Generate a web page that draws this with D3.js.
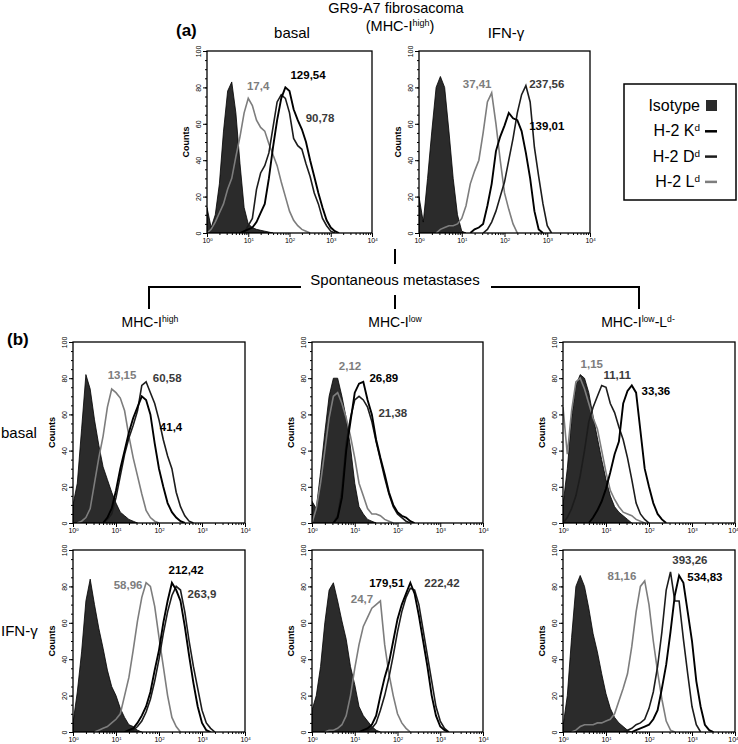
<!DOCTYPE html>
<html>
<head>
<meta charset="utf-8">
<script src="https://cdn.jsdelivr.net/npm/d3@7"></script>
<style>
  body { margin: 0; background: #fff; }
  svg { font-family: "Liberation Sans", Arial, sans-serif; }
</style>
</head>
<body>
<svg id="fig" width="738" height="744"></svg>
<script>
// every histogram is sampled on the same log10 channel grid
var STEP = 0.1;

// (a) GR9-A7 fibrosacoma, basal  (from = first log10 channel)
var aBasalIso = {from: 0,   counts: [14,3,10,27,56,78,83,66,38,14,5,3,2,1.5,1,0.5,0]};
var aBasalLd  = {from: 0,   counts: [0,2,6,11,16,24,30,42,53,66,74,70,62,58,56,49,43,37,28,20,12,7,4,2,1,0]};
var aBasalKd  = {from: 0.8, counts: [0,1,2,3,6,11,16,30,47,62,74,80,78,68,62,57,50,40,31,22,14,7,3,1,0]};
var aBasalDd  = {from: 0.9, counts: [0,4,8,24,33,37,44,58,72,76,74,66,52,48,46,38,31,22,16,8,4,1,0]};
var aBasalMfi = ["17,4", "129,54", "90,78"];

// (a) GR9-A7 fibrosacoma, IFN-γ
var aIfnIso = {from: 0,   counts: [20,6,30,56,80,86,80,56,30,10,1,0]};
var aIfnLd  = {from: 0.4, counts: [0,2,3,4,4,5,8,15,27,34,40,55,72,77,60,40,22,13,5,0]};
var aIfnKd  = {from: 1.2, counts: [0,2,3,5,15,27,45,53,59,66,63,62,56,44,30,12,2,0]};
var aIfnDd  = {from: 1.5, counts: [0,2,6,12,20,28,40,52,66,76,81,72,47,31,16,4,0]};
var aIfnMfi = ["37,41", "139,01", "237,56"];

// (b) MHC-I high, basal / IFN-γ
var hiBasalIso = {from: 0,   counts: [10,22,52,82,74,57,43,31,24,17,11,6,4,2,1,0]};
var hiBasalLd  = {from: 0.1, counts: [0,1,3,8,22,36,48,64,74,72,69,62,48,36,26,16,7,3,1,0]};
var hiBasalKd  = {from: 0.7, counts: [0,3,8,18,30,40,50,58,64,70,68,60,44,30,20,11,6,3,1,0]};
var hiBasalDd  = {from: 0.7, counts: [0,2,5,14,26,38,47,54,62,76,78,72,66,57,46,37,30,17,9,4,1,0]};
var hiBasalMfi = ["13,15", "41,4", "60,58"];

var hiIfnIso = {from: 0,   counts: [5,22,44,72,84,70,57,46,34,25,20,13,8,4,3,1,0]};
var hiIfnLd  = {from: 0.5, counts: [0,1,2,3,5,7,10,20,30,45,61,74,82,80,69,52,36,20,8,3,0]};
var hiIfnKd  = {from: 1.2, counts: [0,1,2,5,9,14,22,34,45,60,72,82,78,72,58,42,27,14,5,1,0]};
var hiIfnDd  = {from: 1.3, counts: [0,1,3,6,11,18,28,40,54,66,75,80,78,66,50,36,24,12,5,2,0]};
var hiIfnMfi = ["58,96", "212,42", "263,9"];

// (b) MHC-I low
var loBasalIso = {from: 0,   counts: [12,8,28,50,70,80,80,70,58,42,22,9,5,2,1,0]};
var loBasalLd  = {from: 0,   counts: [0,8,22,40,58,70,72,66,58,48,36,22,15,8,5,5,4,2,1,0]};
var loBasalKd  = {from: 0.5, counts: [0,3,14,40,56,72,77,78,68,60,46,36,27,17,10,6,4,3,1,0]};
var loBasalDd  = {from: 0.5, counts: [0,4,18,44,58,68,70,68,64,56,45,35,25,16,9,5,3,1,0]};
var loBasalMfi = ["2,12", "26,89", "21,38"];

var loIfnIso = {from: 0,   counts: [12,20,36,60,78,82,72,61,51,36,26,14,9,6,3,1,0]};
var loIfnLd  = {from: 0.3, counts: [0,1,1,2,4,9,20,35,48,58,63,68,70,72,48,32,20,10,5,2,0]};
var loIfnKd  = {from: 1.1, counts: [0,1,2,4,9,20,30,38,50,62,70,76,82,76,64,50,36,20,9,3,1,0]};
var loIfnDd  = {from: 1.2, counts: [0,1,2,5,12,20,30,42,55,66,74,79,78,70,56,42,28,14,6,2,0]};
var loIfnMfi = ["24,7", "179,51", "222,42"];

// (b) MHC-I low, L^d negative
var ldBasalIso = {from: 0,   counts: [10,30,58,76,82,80,72,59,47,35,24,15,9,6,4,2,0]};
var ldBasalLd  = {from: 0,   counts: [64,38,62,78,80,74,66,58,52,40,28,18,13,9,6,5,4,2,1,0]};
var ldBasalKd  = {from: 0.6, counts: [0,3,7,12,19,28,38,45,66,73,76,72,51,30,20,11,5,2,0]};
var ldBasalDd  = {from: 0,   counts: [0,3,8,15,26,40,56,64,70,76,75,66,61,53,46,36,24,11,5,2,0]};
var ldBasalMfi = ["1,15", "33,36", "11,11"];

var ldIfnIso = {from: 0,   counts: [3,20,52,80,86,80,68,54,44,32,21,13,8,5,3,1,0]};
var ldIfnLd  = {from: 0.2, counts: [0,1,3,4,4,4,5,5,6,7,10,17,24,32,47,66,80,83,70,50,33,18,6,1,0]};
var ldIfnKd  = {from: 1.6, counts: [0,1,2,3,4,7,12,24,37,55,75,86,82,66,50,28,14,4,1,0]};
var ldIfnDd  = {from: 1.4, counts: [0,1,2,4,5,7,13,22,36,55,78,88,72,72,51,32,14,4,0]};
var ldIfnMfi = ["81,16", "534,83", "393,26"];

var xDecades = [0, 1, 2, 3, 4];
var yTicks = [0, 20, 40, 60, 80, 100];
var legendItems = ["Isotype", "H-2 K", "H-2 D", "H-2 L"];

// layout: frame box in px, MFI label anchors in data units [log10, count] (Ld, Kd, Dd order)
var panels = [
  {box: [207, 372, 51, 233],  iso: aBasalIso, ld: aBasalLd, kd: aBasalKd, dd: aBasalDd, mfi: aBasalMfi,
   at: [[1.24, 81], [2.45, 87], [2.74, 63]]},
  {box: [419, 590, 51, 233],  iso: aIfnIso, ld: aIfnLd, kd: aIfnKd, dd: aIfnDd, mfi: aIfnMfi,
   at: [[1.36, 82], [2.99, 59], [2.99, 82]]},
  {box: [73, 245, 342, 523],  iso: hiBasalIso, ld: hiBasalLd, kd: hiBasalKd, dd: hiBasalDd, mfi: hiBasalMfi,
   at: [[1.14, 82], [2.28, 53], [2.19, 80]]},
  {box: [312, 483, 342, 523], iso: loBasalIso, ld: loBasalLd, kd: loBasalKd, dd: loBasalDd, mfi: loBasalMfi,
   at: [[0.89, 87], [1.68, 80], [1.89, 61]]},
  {box: [563, 735, 342, 523], iso: ldBasalIso, ld: ldBasalLd, kd: ldBasalKd, dd: ldBasalDd, mfi: ldBasalMfi,
   at: [[0.67, 88], [2.16, 73], [1.26, 82]]},
  {box: [73, 245, 550, 732],  iso: hiIfnIso, ld: hiIfnLd, kd: hiIfnKd, dd: hiIfnDd, mfi: hiIfnMfi,
   at: [[1.28, 81], [2.63, 89], [3.0, 76]]},
  {box: [312, 483, 550, 732], iso: loIfnIso, ld: loIfnLd, kd: loIfnKd, dd: loIfnDd, mfi: loIfnMfi,
   at: [[1.17, 73], [1.75, 82], [3.04, 82]]},
  {box: [563, 735, 550, 732], iso: ldIfnIso, ld: ldIfnLd, kd: ldIfnKd, dd: ldIfnDd, mfi: ldIfnMfi,
   at: [[1.37, 86], [3.3, 85], [2.95, 94.5]]}
];

var COL = {iso: "#2b2b2b", kd: "#000", dd: "#1c1c1c", ld: "#7d7d7d", kdText: "#000", ddText: "#3a3a3a"};

var svg = d3.select("#fig");

function points(c) {
  return c.counts.map(function (n, i) { return [Math.pow(10, c.from + i * STEP), n]; });
}

// text with superscript pieces: parts = [[text, isSup], ...]
function richText(g, x, y, parts, size, anchor) {
  var t = g.append("text").attr("x", x).attr("y", y).attr("fill", "#000")
    .attr("font-size", size).attr("text-anchor", anchor || "middle");
  parts.forEach(function (p) {
    var s = t.append("tspan").text(p[0]);
    if (p[1]) s.attr("font-size", size * 0.62).attr("baseline-shift", "55%");
  });
  return t;
}

panels.forEach(function (p, idx) {
  var x0 = p.box[0], x1 = p.box[1], yt = p.box[2], yb = p.box[3];
  var x = d3.scaleLog().domain([1, 1e4]).range([x0, x1]);
  var y = d3.scaleLinear().domain([0, 100]).range([yb, yt]);
  var g = svg.append("g");

  g.append("clipPath").attr("id", "clip" + idx)
    .append("rect").attr("x", x0).attr("y", yt).attr("width", x1 - x0).attr("height", yb - yt);

  var plot = g.append("g").attr("clip-path", "url(#clip" + idx + ")");

  var area = d3.area().x(function (d) { return x(d[0]); })
    .y0(y(0)).y1(function (d) { return y(d[1]); });
  var line = d3.line().x(function (d) { return x(d[0]); })
    .y(function (d) { return y(d[1]); });

  plot.append("path").datum(points(p.iso)).attr("d", area)
    .attr("fill", COL.iso).attr("stroke", "#000").attr("stroke-width", 0.8);
  plot.append("path").datum(points(p.ld)).attr("d", line)
    .attr("fill", "none").attr("stroke", COL.ld).attr("stroke-width", 1.6);
  plot.append("path").datum(points(p.dd)).attr("d", line)
    .attr("fill", "none").attr("stroke", COL.dd).attr("stroke-width", 1.6);
  plot.append("path").datum(points(p.kd)).attr("d", line)
    .attr("fill", "none").attr("stroke", COL.kd).attr("stroke-width", 1.9);

  // frame
  g.append("rect").attr("x", x0).attr("y", yt).attr("width", x1 - x0).attr("height", yb - yt)
    .attr("fill", "none").attr("stroke", "#000").attr("stroke-width", 1.3);

  // x axis: minor log ticks + decade ticks
  var minor = [];
  xDecades.slice(0, 4).forEach(function (d) {
    for (var m = 2; m <= 9; m++) minor.push(m * Math.pow(10, d));
  });
  g.append("g").attr("transform", "translate(0," + yb + ")")
    .call(d3.axisBottom(x).tickValues(minor).tickSize(2).tickFormat(""))
    .call(function (a) { a.select(".domain").remove(); });
  var xa = g.append("g").attr("transform", "translate(0," + yb + ")")
    .call(d3.axisBottom(x).tickValues(xDecades.map(function (d) { return Math.pow(10, d); }))
      .tickSize(4).tickFormat(""))
    .call(function (a) { a.select(".domain").remove(); });
  xa.selectAll(".tick").each(function (v) {
    var edge = x(v) > 730;
    richText(d3.select(this), edge ? 3 : 0, 9.5,
      [["10", false], [String(Math.round(Math.log10(v))), true]], 7, edge ? "end" : "middle");
  });

  // y axis
  var yMinor = d3.range(0, 101, 5);
  g.append("g").attr("transform", "translate(" + x0 + ",0)")
    .call(d3.axisLeft(y).tickValues(yMinor).tickSize(2).tickFormat(""))
    .call(function (a) { a.select(".domain").remove(); });
  var ya = g.append("g").attr("transform", "translate(" + x0 + ",0)")
    .call(d3.axisLeft(y).tickValues(yTicks).tickSize(4).tickFormat(""))
    .call(function (a) { a.select(".domain").remove(); });
  ya.selectAll(".tick").append("text")
    .attr("transform", "translate(-6,0) rotate(-90)")
    .attr("text-anchor", "middle").attr("font-size", 7).attr("fill", "#000")
    .text(function (d) { return d; });

  g.append("text").attr("transform", "translate(" + (x0 - 18) + "," + ((yt + yb) / 2) + ") rotate(-90)")
    .attr("text-anchor", "middle").attr("font-size", 9).attr("font-weight", "bold").text("Counts");

  // MFI labels: Ld, Kd, Dd
  var cols = [COL.ld, COL.kdText, COL.ddText];
  p.mfi.forEach(function (t, i) {
    g.append("text").attr("x", x(Math.pow(10, p.at[i][0]))).attr("y", y(p.at[i][1]))
      .attr("dy", "0.35em").attr("text-anchor", "middle")
      .attr("font-size", 11.5).attr("font-weight", "bold").attr("fill", cols[i]).text(t);
  });
});

// titles and tree
var ann = svg.append("g");
ann.append("text").attr("x", 396).attr("y", 13).attr("text-anchor", "middle")
  .attr("font-size", 14.5).text("GR9-A7 fibrosacoma");
richText(ann, 400, 31, [["(MHC-I", false], ["high", true], [")", false]], 14.5);
ann.append("text").attr("x", 176).attr("y", 36).attr("font-size", 17).attr("font-weight", "bold").text("(a)");
ann.append("text").attr("x", 292).attr("y", 38).attr("text-anchor", "middle").attr("font-size", 15).text("basal");
ann.append("text").attr("x", 506).attr("y", 38).attr("text-anchor", "middle").attr("font-size", 15).text("IFN-γ");

ann.append("text").attr("x", 395).attr("y", 285).attr("text-anchor", "middle")
  .attr("font-size", 15).text("Spontaneous metastases");
var tree = [
  [395, 249, 395, 264], [395, 295, 395, 309],
  [149, 287, 301, 287], [491, 287, 639, 287],
  [149, 286, 149, 309], [639, 286, 639, 309]
];
tree.forEach(function (l) {
  ann.append("line").attr("x1", l[0]).attr("y1", l[1]).attr("x2", l[2]).attr("y2", l[3])
    .attr("stroke", "#000").attr("stroke-width", 2);
});
richText(ann, 150, 327, [["MHC-I", false], ["high", true]], 14);
richText(ann, 395, 327, [["MHC-I", false], ["low", true]], 14);
richText(ann, 638, 327, [["MHC-I", false], ["low", true], ["-L", false], ["d-", true]], 14);
ann.append("text").attr("x", 7).attr("y", 345).attr("font-size", 17).attr("font-weight", "bold").text("(b)");
ann.append("text").attr("x", 1).attr("y", 438).attr("font-size", 15).text("basal");
ann.append("text").attr("x", 1).attr("y", 636).attr("font-size", 15).text("IFN-γ");

// legend
var lg = svg.append("g");
lg.append("rect").attr("x", 624).attr("y", 84).attr("width", 112).attr("height", 116)
  .attr("fill", "#fff").attr("stroke", "#000").attr("stroke-width", 1.5);
var lgKeys = ["iso", "kd", "dd", "ld"];
legendItems.forEach(function (name, i) {
  var yy = 111 + i * 25.3;
  var parts = i === 0 ? [[name, false]] : [[name, false], ["d", true]];
  richText(lg, 700, yy, parts, 16, "end");
  if (i === 0) {
    lg.append("rect").attr("x", 706).attr("y", yy - 11).attr("width", 11).attr("height", 11).attr("fill", COL.iso);
  } else {
    lg.append("line").attr("x1", 705).attr("x2", 717).attr("y1", yy - 5).attr("y2", yy - 5)
      .attr("stroke", COL[lgKeys[i]]).attr("stroke-width", 2.5);
  }
});
</script>
</body>
</html>
